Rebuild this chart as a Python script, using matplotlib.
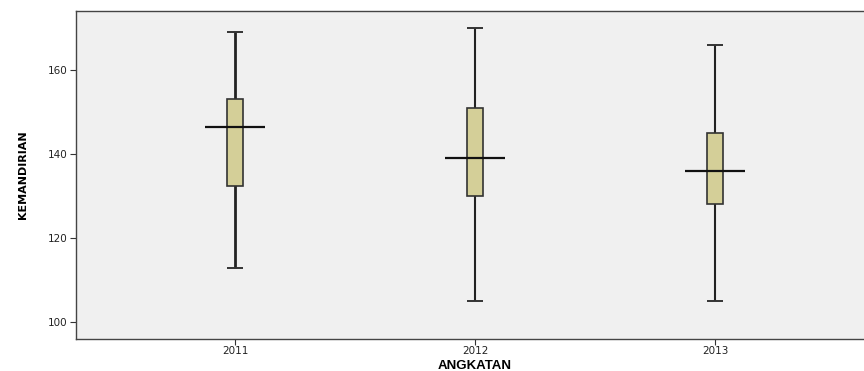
import numpy as np
import matplotlib
matplotlib.use("Agg")
import matplotlib.pyplot as plt

# KEMANDIRIAN per angkatan: high / Q3 / median / Q1 / low
years = ["2011", "2012", "2013"]
highs = [169, 170, 166]
q3 = [153, 151, 145]
medians = [146.5, 139, 136]
q1 = [132.5, 130, 128]
lows = [113, 105, 105]

fig = plt.figure(figsize=(8.64, 3.71), dpi=100)
ax = fig.add_axes([76 / 864, 32 / 371, 1 - 76 / 864, 328 / 371])
ax.set_facecolor("#f0f0f0")

x = np.arange(1, len(years) + 1)
q3 = np.array(q3)
q1 = np.array(q1)

# whiskers and caps
ax.vlines(x, lows, highs, color="#222222", lw=[2.0, 1.5, 1.5], zorder=2)
ax.hlines(highs, x - 0.033, x + 0.033, color="#333333", lw=1.4, zorder=2)
ax.hlines(lows, x - 0.033, x + 0.033, color="#333333", lw=1.4, zorder=2)

# boxes
ax.bar(x, q3 - q1, bottom=q1, width=0.066, color="#d4cf98",
       edgecolor="#333333", linewidth=1.2, zorder=3)

# median lines
ax.hlines(medians, x - 0.125, x + 0.125, color="#111111", lw=1.6, zorder=4)

ax.set_xlim(1 - 159 / 240, 3 + 149 / 240)
ax.set_ylim(96, 174)
ax.set_xticks(x)
ax.set_xticklabels(years)
ax.set_yticks([100, 120, 140, 160])
ax.tick_params(axis="both", labelsize=7.5, length=4, width=0.8,
               color="#333333", labelcolor="#222222", pad=2)
ax.tick_params(axis="x", pad=1)

for side in ["left", "bottom", "top"]:
    ax.spines[side].set_color("#444444")
    ax.spines[side].set_linewidth(1.0)
ax.spines["right"].set_visible(False)

fig.text(475 / 864, 2 / 371, "ANGKATAN", ha="center", va="baseline",
         fontsize=9.5, fontweight="bold", family="Liberation Sans")
ax.set_ylabel("KEMANDIRIAN", fontsize=8, fontweight="bold", labelpad=14,
              family=["Liberation Sans Narrow", "DejaVu Sans"])

fig.savefig("out.png", dpi=100, facecolor="white")
